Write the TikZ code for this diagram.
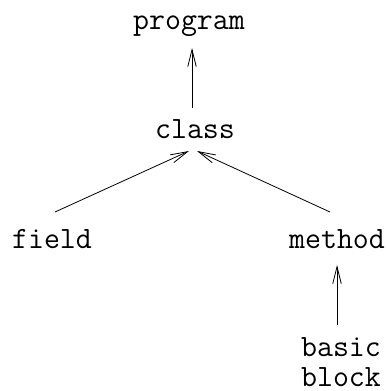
\documentclass[tikz,border=0pt]{standalone}
\usetikzlibrary{arrows.meta,calc}
\begin{document}
\begin{tikzpicture}[x=1pt,y=-1pt,
  lbl/.style={anchor=base,inner sep=0pt,font=\fontsize{31}{31}\selectfont\ttfamily},
  dep/.style={line width=0.8pt,-{Straight Barb[length=17pt,width=8.5pt,line width=0.8pt]}}]
  \useasboundingbox (0,0) rectangle (388,391);
  % hierarchy labels
  \node[lbl] (program) at (189,29) {program};
  \node[lbl] (class)   at (195,138) {class};
  \node[lbl] (field)   at (52,248) {field};
  \node[lbl] (method)  at (337,248) {method};
  \node[lbl] (basic)   at (341,356) {basic};
  \node[lbl] (block)   at (341,386) {block};
  % containment arrows
  \draw[dep] ($(class.base)+(-3,-30)$) -- ($(program.base)+(3,19)$);
  \draw[dep] ($(field.base)+(3,-36)$) -- ($(class.base)+(-6,13)$);
  \draw[dep] ($(method.base)+(-7,-36)$) -- ($(class.base)+(2,13)$);
  \draw[dep] ($(basic.base)+(-4,-31)$) -- ($(method.base)+(0,17)$);
\end{tikzpicture}
\end{document}
